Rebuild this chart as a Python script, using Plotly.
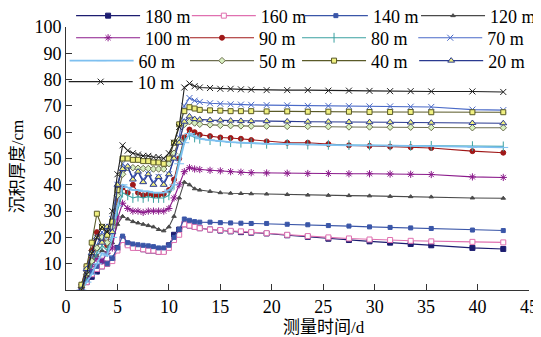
import plotly.graph_objects as go

days = [1.5, 2, 2.5, 3, 3.5, 4, 4.5, 5, 5.5, 6, 6.5, 7, 7.5, 8, 8.5, 9, 9.5, 10, 10.5, 11,
        11.5, 12, 12.5, 13, 14, 15, 16, 17, 18, 19.5, 21.5, 23.5, 25.5, 27.5, 29.5, 31.5,
        33.5, 35.5, 39.5, 42.5]

d180 = [0, 3, 5, 7, 9, 10, 12, 16, 19.5, 17.5, 16.5, 16, 15.5, 15, 15, 14.5, 14.8, 17, 21, 23,
        25, 24.5, 24, 23.5, 23, 22.6, 22.3, 22, 21.8, 21.5, 20.8, 20.2, 19.5, 19, 18.5, 18,
        17.5, 17, 16, 15.6]
d160 = [0, 3, 6, 8, 9, 10, 11, 15, 19, 17, 16, 16, 15.5, 15, 15, 14.5, 14.5, 16, 19, 21,
        25, 24.5, 24, 23.5, 23, 22.8, 22.5, 22.3, 22, 21.6, 21, 20.5, 20, 19.6, 19.2, 19,
        18.7, 18.5, 18.3, 18.1]
d140 = [0, 4, 7, 9, 11, 10, 12, 16, 20.5, 18, 17.5, 17.2, 17, 16.8, 16.5, 16, 16, 17, 20, 23,
        27, 26.5, 26, 25.8, 25.8, 25.6, 25.5, 25.4, 25.3, 25.3, 25, 24.8, 24.5, 24.3, 24, 23.8,
        23.6, 23.4, 22.8, 22.6]
d120 = [1, 6, 10, 13, 15, 14, 18, 25, 28, 27, 26, 25.5, 25, 24.5, 24, 23, 22.5, 24, 28, 35,
        41, 40, 38.5, 38, 37.5, 37, 36.8, 36.7, 36.6, 36.5, 36.3, 36.1, 36, 35.9, 35.8, 35.6,
        35.5, 35.4, 35, 34.9]
d100 = [0, 5, 9, 12, 11, 14, 16, 27, 33, 31, 30, 30, 29.5, 30, 30, 30, 30, 31, 35, 40,
        45, 46.5, 46, 45.8, 45.5, 45.3, 45, 44.8, 44.6, 44.5, 44.4, 44.3, 44.3, 44.2, 44.2, 44.1,
        44, 43.9, 43, 42.8]
d90 = [2, 9, 15, 22, 19, 17, 25, 34, 39, 37, 40, 37, 36, 36.5, 36, 36, 36.5, 38, 42, 50,
       58, 61, 60, 59, 58.5, 58, 57.8, 57.5, 57, 56.5, 56, 56, 55.5, 55, 54.8, 54.5,
       54.3, 54, 52.8, 52.2]
d80 = [1, 5, 10, 14, 17, 15, 21, 30, 37, 36, 35, 35.5, 35, 35.5, 35, 35, 35, 36, 40, 50,
       57, 59, 58, 57.5, 57, 56.5, 56.2, 56, 55.8, 55.6, 55.5, 55.3, 55.2, 55.1, 55, 54.9,
       54.8, 54.8, 54.7, 54.6]
d70 = [1, 7, 12, 17, 22, 20, 27, 40, 48, 46, 43, 45, 42, 44, 41, 43, 41, 44, 50, 58,
       70, 73, 72, 71.5, 71, 70.8, 70.6, 70.5, 70.4, 70.3, 70.2, 70, 70, 69.9, 69.8, 69.8,
       69.7, 69.6, 68.6, 68.4]
d60 = [0, 3, 6, 10, 14, 13, 20, 32, 40, 39, 38, 38, 37.5, 37.5, 37, 37, 37, 38, 40, 48,
       56, 59.5, 58.5, 57.5, 57, 56.5, 56.2, 56, 55.8, 55.6, 55.5, 55.3, 55.2, 55, 55, 54.8,
       54.8, 54.7, 54.3, 54.2]
d50 = [1, 6, 11, 16, 20, 18, 24, 36, 44, 46.5, 46.5, 46.3, 46.2, 46.2, 46, 46, 46, 48, 52, 57,
       63, 64, 63.5, 63, 62.8, 62.6, 62.5, 62.4, 62.3, 62.3, 62.2, 62.2, 62.1, 62, 62, 61.9,
       61.9, 61.8, 61.7, 61.7]
d40 = [2, 9, 18, 29, 24, 21, 26, 38, 50, 50, 49.5, 49.5, 49, 49, 48.5, 48.5, 48, 50, 56, 63,
       68, 69.5, 69, 68.5, 68.3, 68.2, 68, 68, 68, 67.9, 67.9, 67.8, 67.8, 67.8, 67.7, 67.7,
       67.7, 67.6, 67.6, 67.6]
d20 = [0, 8, 14, 20, 18, 24, 22, 40, 46, 47, 42, 45, 41, 44, 40, 43, 40, 44, 50, 56,
       64, 66, 65, 64.8, 64.6, 64.5, 64.4, 64.3, 64.2, 64.2, 64.1, 64, 64, 63.9, 63.8, 63.8,
       63.7, 63.6, 63.5, 63.4]
d10 = [0, 6, 14, 20, 24, 22, 30, 44, 55, 53, 52, 51.5, 51, 51, 50.5, 50.5, 50, 52, 56, 62,
       77, 78.5, 77.5, 77, 76.8, 76.5, 76.5, 76.3, 76.2, 76, 76, 76, 75.8, 75.8, 75.7, 75.6,
       75.6, 75.5, 75.5, 75.3]

names = ["180 m", "160 m", "140 m", "120 m", "100 m", "90 m", "80 m", "70 m",
         "60 m", "50 m", "40 m", "20 m", "10 m"]
series = [d180, d160, d140, d120, d100, d90, d80, d70, d60, d50, d40, d20, d10]
colors = ["#1c1c70", "#e070b0", "#3a56a8", "#4a4a4a", "#8b1a8b", "#a01818", "#3aa0a0",
          "#4a6ac8", "#7ec0f0", "#6e6e50", "#5a5a28", "#2a3a90", "#202020"]
symbols = ["square", "square", "square", "triangle-up", "asterisk-open", "circle",
           "line-ns-open", "x-thin-open", "line-ew-open", "diamond", "square",
           "triangle-up", "x-thin-open"]
fills = ["#1c1c70", "white", "#3a56a8", "#4a4a4a", "#8b1a8b", "#a01818", "#3aa0a0",
         "#4a6ac8", "#7ec0f0", "#d8f0c0", "#f0f080", "#f0f080", "#202020"]
msizes = [5, 5, 4, 4, 6, 5, 7, 6, 7, 5, 5, 6, 6]
lwidths = [1.1, 1.1, 1.1, 1.1, 1.1, 1.1, 1.1, 1.1, 1.8, 1.1, 1.1, 1.1, 1.1]

SERIF = "Liberation Serif, Times New Roman, serif"
CJK = "Liberation Serif, Noto Sans CJK SC, serif"

col_x = [0.011, 0.261, 0.503, 0.756]
row_y = [1.042, 0.958, 0.871, 0.791]
x_nudge = [0, 0, 0, 0, 0, -0.004, -0.004, -0.006, -0.014, -0.004, -0.004, -0.004, -0.016]

fig = go.Figure()
legends = {}
for i, (nm, ys, c, s, f, ms, lw) in enumerate(zip(names, series, colors, symbols, fills,
                                                  msizes, lwidths)):
    lid = "legend" if i == 0 else "legend%d" % (i + 1)
    fig.add_trace(go.Scatter(
        x=days, y=ys, name=nm, mode="lines+markers",
        line=dict(color=c, width=lw),
        marker=dict(symbol=s, size=ms, color=f, line=dict(color=c, width=1)),
        legend=lid,
    ))
    legends[lid] = dict(
        x=col_x[i % 4] + x_nudge[i], y=row_y[i // 4], xanchor="left", yanchor="middle",
        xref="paper", yref="paper",
        orientation="v", itemwidth=64,
        font=dict(family=SERIF, size=18, color="black"),
        bgcolor="rgba(0,0,0,0)", borderwidth=0,
    )

fig.update_layout(
    width=533, height=329,
    margin=dict(l=58, r=12, t=19, b=47, autoexpand=False),
    paper_bgcolor="white", plot_bgcolor="white",
    font=dict(family=SERIF, size=16, color="black"),
    showlegend=True,
    xaxis=dict(
        range=[0, 45], tickvals=[0, 5, 10, 15, 20, 25, 30, 35, 40, 45],
        showgrid=False, zeroline=False, showline=True, linecolor="#333", linewidth=1,
        ticks="inside", ticklen=6, tickcolor="#333",
        tickfont=dict(family=SERIF, size=18),
    ),
    yaxis=dict(
        range=[0, 100], tickvals=[0, 10, 20, 30, 40, 50, 60, 70, 80, 90, 100],
        ticktext=["", "10", "20", "30", "40", "50", "60", "70", "80", "90", "100"],
        showgrid=False, zeroline=False, showline=True, linecolor="#333", linewidth=1,
        ticks="inside", ticklen=6, tickcolor="#333",
        tickfont=dict(family=SERIF, size=18),
    ),
    annotations=[
        dict(text="测量时间/d", x=0.557, y=-0.142, xref="paper", yref="paper",
             xanchor="center", yanchor="middle", showarrow=False,
             font=dict(family=CJK, size=17, color="black")),
        dict(text="沉积厚度/cm", x=-0.104, y=0.47, xref="paper", yref="paper",
             xanchor="center", yanchor="middle", showarrow=False, textangle=-90,
             font=dict(family=CJK, size=17, color="black")),
    ],
    **legends,
)

fig.write_html("out.html")
